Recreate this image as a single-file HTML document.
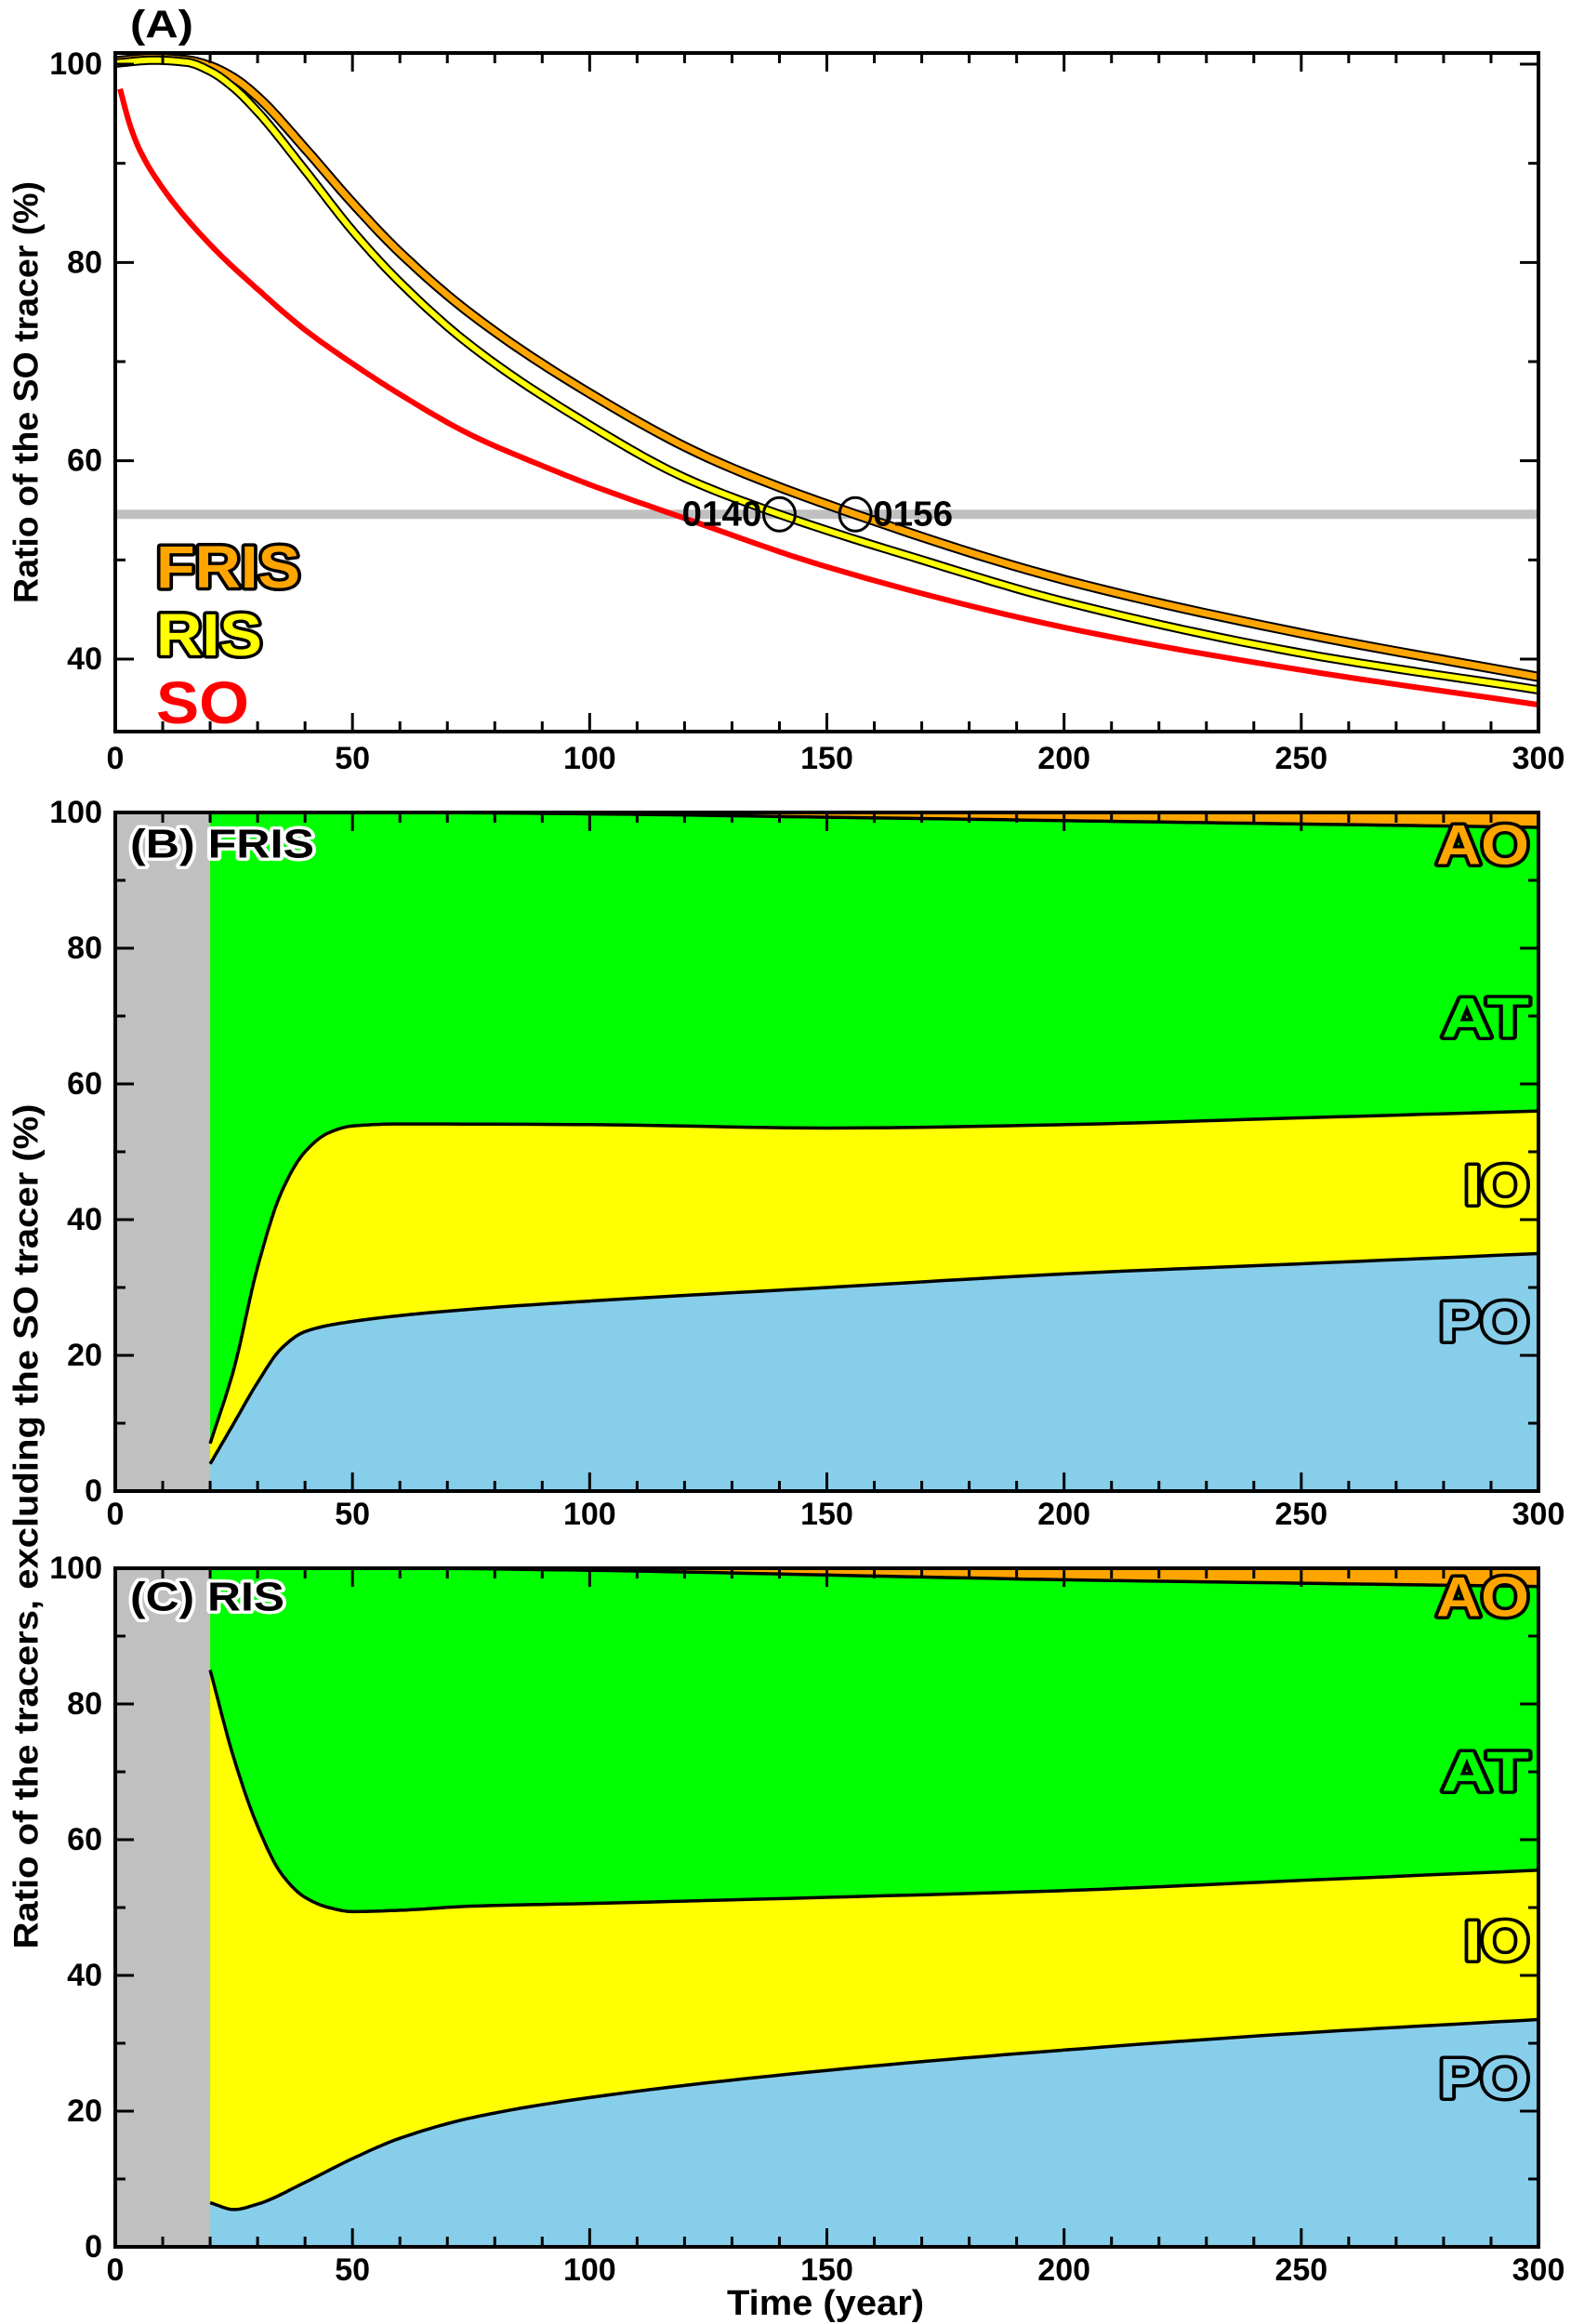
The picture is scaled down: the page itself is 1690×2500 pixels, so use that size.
<!DOCTYPE html>
<html><head><meta charset="utf-8"><style>
html,body{margin:0;padding:0;background:#fff}
svg{display:block}
text{font-family:"Liberation Sans",sans-serif;font-weight:bold}
</style></head><body>
<svg id="s" width="1690" height="2500" viewBox="0 0 1690 2500" xmlns="http://www.w3.org/2000/svg">
<g id="A"></g><g id="B"></g><g id="C"></g>
</svg>
<script>
const NS="http://www.w3.org/2000/svg";
const L=124,R=1655;
const X=t=>L+t*(R-L)/300;
function el(p,tag,a,txt){const e=document.createElementNS(NS,tag);for(const k in a)e.setAttribute(k,a[k]);if(txt!=null)e.textContent=txt;p.appendChild(e);return e;}
function interp(pts){
 const n=pts.length,xs=pts.map(p=>p[0]),ys=pts.map(p=>p[1]);
 const d=[],m=[];
 for(let i=0;i<n-1;i++)d.push((ys[i+1]-ys[i])/(xs[i+1]-xs[i]));
 m[0]=d[0];m[n-1]=d[n-2];
 for(let i=1;i<n-1;i++){ if(d[i-1]*d[i]<=0)m[i]=0; else{const w1=2*(xs[i+1]-xs[i])+(xs[i]-xs[i-1]),w2=(xs[i+1]-xs[i])+2*(xs[i]-xs[i-1]);m[i]=(w1+w2)/(w1/d[i-1]+w2/d[i]);} }
 const out=[];
 for(let i=0;i<n-1;i++){const h=xs[i+1]-xs[i];
  for(let k=0;k<12;k++){const s=k/12,s2=s*s,s3=s2*s;
   const y=(2*s3-3*s2+1)*ys[i]+(s3-2*s2+s)*h*m[i]+(-2*s3+3*s2)*ys[i+1]+(s3-s2)*h*m[i+1];
   out.push([xs[i]+s*h,y]);}}
 out.push(pts[n-1]);return out;
}
function pathOf(pts,Y){return interp(pts).map((p,i)=>(i?'L':'M')+X(p[0]).toFixed(1)+' '+Y(p[1]).toFixed(1)).join(' ');}
function ticks(g,top,bot,yt){
 for(let t=0;t<=300;t+=10){const m=t%50==0,len=m?20:11;
  el(g,'line',{x1:X(t),x2:X(t),y1:bot,y2:bot-len,stroke:'#000','stroke-width':3});
  el(g,'line',{x1:X(t),x2:X(t),y1:top,y2:top+len,stroke:'#000','stroke-width':3});}
 yt.forEach(([y,m])=>{const len=m?20:11;
  el(g,'line',{x1:L,x2:L+len,y1:y,y2:y,stroke:'#000','stroke-width':3});
  el(g,'line',{x1:R,x2:R-len,y1:y,y2:y,stroke:'#000','stroke-width':3});});
 el(g,'rect',{x:L,y:top,width:R-L,height:bot-top,fill:'none',stroke:'#000','stroke-width':4});
}
function xlabels(g,y){[0,50,100,150,200,250,300].forEach(t=>el(g,'text',{x:X(t),y:y,'font-size':34,'text-anchor':'middle','dominant-baseline':'central'},String(t)));}
function outlined(g,x,y,s,fill,size,anchor,len){
 const a={x:x,y:y,'font-size':size,'text-anchor':anchor||'start','dominant-baseline':'central',fill:fill,stroke:fill=='#000'?'#fff':'#000','stroke-width':7,'stroke-linejoin':'round','paint-order':'stroke'};
 if(len){a.textLength=len;a.lengthAdjust='spacingAndGlyphs';}
 el(g,'text',a,s);
}
(function(){
 const g=document.getElementById('A');const top=57,bot=787;
 const Y=v=>69+(100-v)*(640/60);
 el(g,'rect',{x:L,y:Y(54.6)-5,width:R-L,height:10,fill:'#c0c0c0'});
 const so=[[1,97.5],[3,94],[5,91.5],[10,87.5],[20,81.8],[30,77.3],[40,73.2],[50,69.8],[60,66.7],[75,62.6],[90,59.5],[100,57.6],[120,54.2],[150,49.3],[200,43.2],[250,38.9],[300,35.4]];
 const fr=[[0,100.3],[8,100.6],[15,100.4],[20,99.8],[25,98.6],[30,96.7],[40,91.5],[50,86],[60,81],[75,74.8],[100,66.8],[125,60.3],[156,54.6],[200,48],[250,42.6],[300,38.2]];
 const ri=[[0,100.1],[8,100.4],[15,100.2],[20,99.3],[25,97.6],[30,95.2],[40,89.3],[50,83.2],[60,78],[75,71.6],[100,63.6],[120,58.3],[140,54.6],[170,50],[200,45.8],[250,40.6],[300,36.9]];
 el(g,'path',{d:pathOf(fr,Y),fill:'none',stroke:'#000','stroke-width':11});
 el(g,'path',{d:pathOf(fr,Y),fill:'none',stroke:'#ffa500','stroke-width':7});
 el(g,'path',{d:pathOf(ri,Y),fill:'none',stroke:'#000','stroke-width':10});
 el(g,'path',{d:pathOf(ri,Y),fill:'none',stroke:'#ffff00','stroke-width':6});
 el(g,'path',{d:pathOf(so,Y),fill:'none',stroke:'#ff0000','stroke-width':6});
 el(g,'ellipse',{cx:X(140),cy:Y(54.6),rx:17,ry:18,fill:'none',stroke:'#000','stroke-width':3});
 el(g,'ellipse',{cx:X(156),cy:Y(54.6),rx:17,ry:18,fill:'none',stroke:'#000','stroke-width':3});
 el(g,'text',{x:X(140)-19,y:Y(54.6),'font-size':38,'text-anchor':'end','dominant-baseline':'central','font-weight':'normal',textLength:86,lengthAdjust:'spacingAndGlyphs'},'0140');
 el(g,'text',{x:X(156)+19,y:Y(54.6),'font-size':38,'dominant-baseline':'central','font-weight':'normal',textLength:86,lengthAdjust:'spacingAndGlyphs'},'0156');
 ticks(g,top,bot,[[Y(100),1],[Y(90),0],[Y(80),1],[Y(70),0],[Y(60),1],[Y(50),0],[Y(40),1]]);
 [100,80,60,40].forEach(v=>el(g,'text',{x:L-14,y:Y(v),'font-size':34,'text-anchor':'end','dominant-baseline':'central'},String(v)));
 xlabels(g,816);
 el(g,'text',{x:140,y:26,'font-size':42,'dominant-baseline':'central',textLength:68,lengthAdjust:'spacingAndGlyphs'},'(A)');
 outlined(g,168,610,'FRIS','#ffa500',64,'start',155);
 outlined(g,168,683,'RIS','#ffff00',64,'start',114);
 el(g,'text',{x:168,y:756,'font-size':64,'dominant-baseline':'central',fill:'#ff0000',textLength:100,lengthAdjust:'spacingAndGlyphs'},'SO');
 el(g,'text',{transform:'translate(28,422) rotate(-90)','font-size':37,'text-anchor':'middle','dominant-baseline':'central',textLength:454,lengthAdjust:'spacingAndGlyphs'},'Ratio of the SO tracer (%)');
})();
function stacked(id,top,bot,po,io,at,label,lblen,lby,ly){
 const g=document.getElementById(id);
 const Y=v=>bot-v*(bot-top)/100;
 el(g,'rect',{x:L,y:top,width:X(20)-L,height:bot-top,fill:'#c0c0c0'});
 const x0=X(20);
 el(g,'rect',{x:x0,y:top,width:R-x0,height:bot-top,fill:'#ffa500'});
 const close=' L '+R+' '+bot+' L '+x0+' '+bot+' Z';
 el(g,'path',{d:pathOf(at,Y)+close,fill:'#00ff00'});
 el(g,'path',{d:pathOf(io,Y)+close,fill:'#ffff00'});
 el(g,'path',{d:pathOf(po,Y)+close,fill:'#87ceeb'});
 [at,io,po].forEach(c=>el(g,'path',{d:pathOf(c,Y),fill:'none',stroke:'#000','stroke-width':3.5}));
 const yt=[];for(let v=0;v<=100;v+=10)yt.push([Y(v),v%20==0]);
 ticks(g,top,bot,yt);
 [0,20,40,60,80,100].forEach(v=>el(g,'text',{x:L-14,y:Y(v),'font-size':34,'text-anchor':'end','dominant-baseline':'central'},String(v)));
 xlabels(g,bot+25);
 outlined(g,140,lby,label,'#000',44,'start',lblen);
 outlined(g,1645,ly[0],'AO','#ffa500',60,'end',100);
 outlined(g,1645,ly[1],'AT','#00ff00',60,'end',94);
 outlined(g,1645,ly[2],'IO','#ffff00',60,'end',70);
 outlined(g,1645,ly[3],'PO','#87ceeb',60,'end',97);
}
stacked('B',874,1604,
 [[20,4],[25,10],[30,16],[35,21],[40,23.5],[50,25],[75,26.8],[100,28],[150,30],[200,32],[250,33.5],[300,35]],
 [[20,7],[25,18],[30,33],[35,44],[40,50],[45,52.8],[50,53.8],[60,54.1],[100,54],[150,53.5],[200,54],[250,55],[300,56]],
 [[20,100],[60,100],[100,99.8],[150,99.3],[200,98.8],[250,98.3],[300,97.8]],
 '(B) FRIS',198,908,[909,1095,1275,1422]);
stacked('C',1687,2417,
 [[20,6.5],[25,5.5],[30,6.3],[40,9.5],[50,13],[60,16],[75,19],[100,22],[150,26],[200,29],[250,31.5],[300,33.5]],
 [[20,85],[25,72],[30,62],[35,55],[40,51.5],[45,50],[50,49.4],[60,49.6],[75,50.2],[100,50.6],[150,51.5],[200,52.5],[250,54],[300,55.5]],
 [[20,100],[60,100],[100,99.7],[150,99],[200,98.3],[250,97.8],[300,97.3]],
 '(C) RIS',166,1718,[1718,1906,2088,2236]);
(function(){const s=document.getElementById('s');
 el(s,'text',{x:888,y:2478,'font-size':38,'text-anchor':'middle','dominant-baseline':'central',textLength:212,lengthAdjust:'spacingAndGlyphs'},'Time (year)');
 el(s,'text',{transform:'translate(28,1642) rotate(-90)','font-size':37,'text-anchor':'middle','dominant-baseline':'central',textLength:909,lengthAdjust:'spacingAndGlyphs'},'Ratio of the tracers, excluding the SO tracer (%)');
})();
</script>
</body></html>
